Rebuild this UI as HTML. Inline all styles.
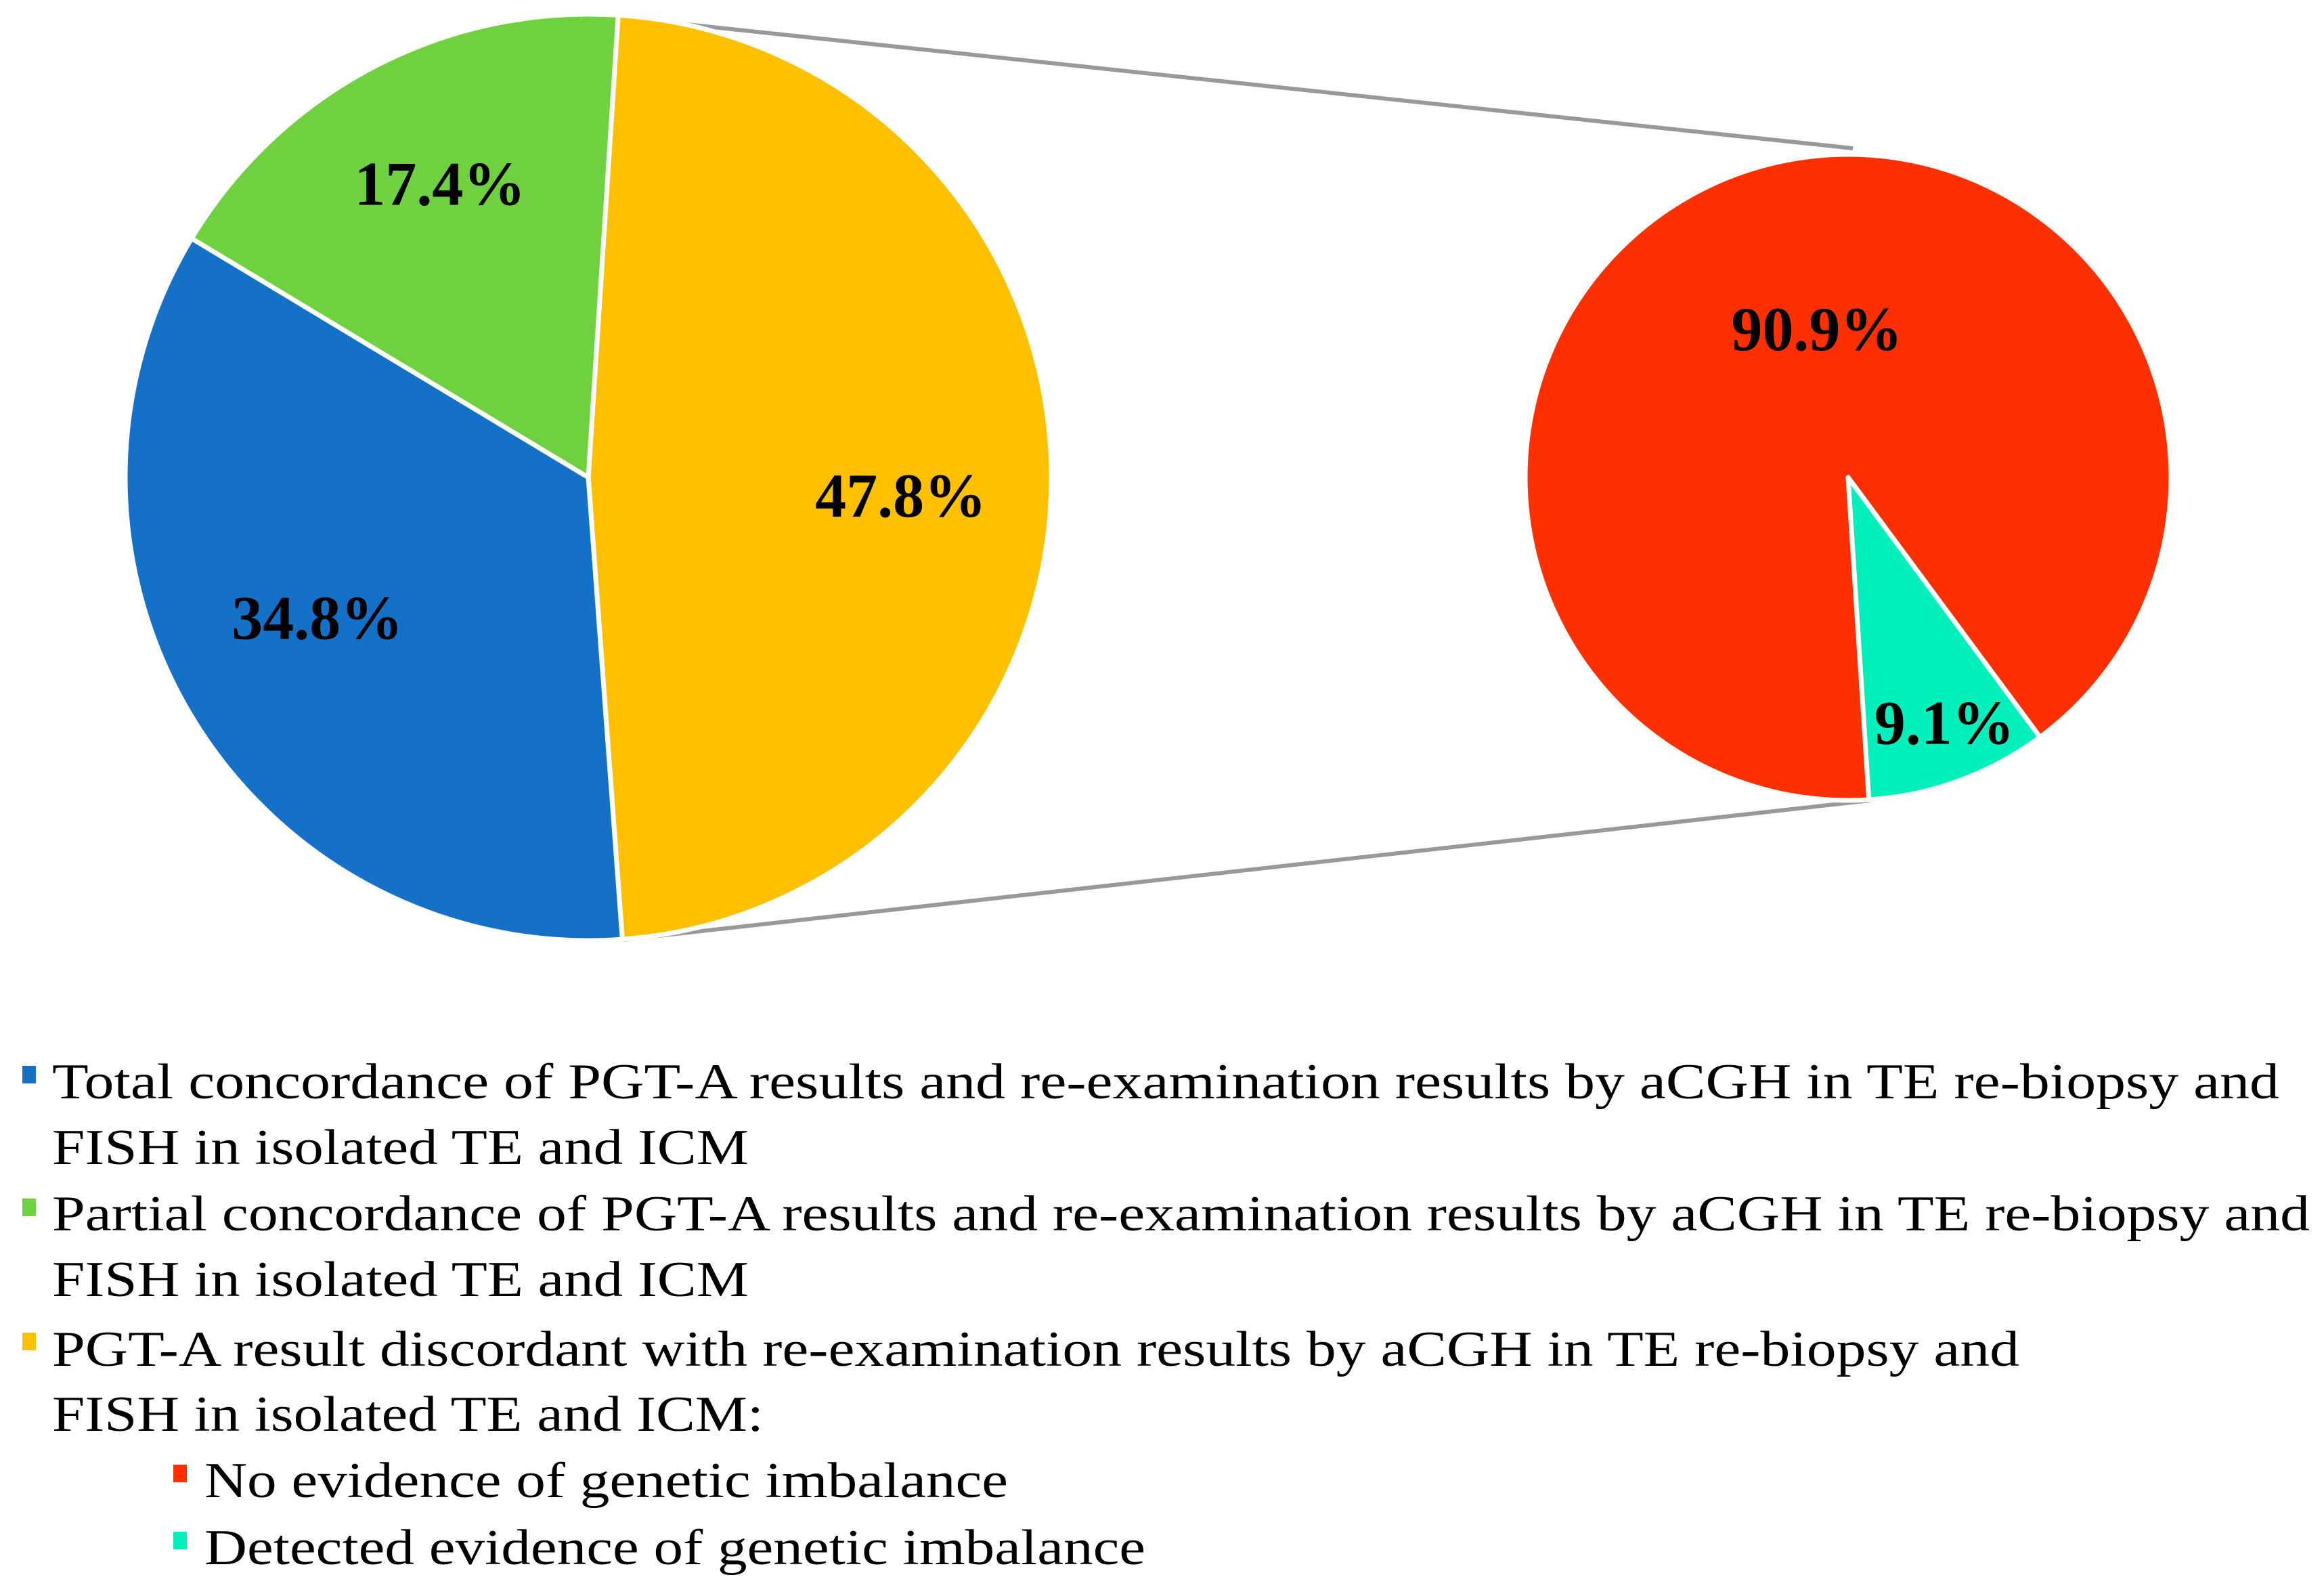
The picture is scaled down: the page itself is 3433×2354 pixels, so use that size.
<!DOCTYPE html>
<html><head><meta charset="utf-8"><style>
html,body{margin:0;padding:0;background:#fff;}
svg{display:block;}
</style></head><body>
<svg id="chart" width="3433" height="2354" viewBox="0 0 3433 2354" xmlns="http://www.w3.org/2000/svg">
  <line x1="920" y1="26" x2="2737" y2="219" stroke="#999" stroke-width="6"/>
  <line x1="920" y1="1388" x2="2763" y2="1182" stroke="#999" stroke-width="6"/>
  <g id="mainPie"></g>
  <g id="subPie"></g>
  <g font-family="'Liberation Serif', serif" font-size="74" fill="#000">
    <rect x="33" y="1574" width="20" height="26" fill="#1570c8"/>
    <text x="77" y="1622" textLength="3290" lengthAdjust="spacingAndGlyphs">Total concordance of PGT-A results and re-examination results by aCGH in TE re-biopsy and</text>
    <text x="77" y="1719" textLength="1029" lengthAdjust="spacingAndGlyphs">FISH in isolated TE and ICM</text>
    <rect x="33" y="1770" width="20" height="26" fill="#6fd140"/>
    <text x="77" y="1817" textLength="3335" lengthAdjust="spacingAndGlyphs">Partial concordance of PGT-A results and re-examination results by aCGH in TE re-biopsy and</text>
    <text x="77" y="1914" textLength="1029" lengthAdjust="spacingAndGlyphs">FISH in isolated TE and ICM</text>
    <rect x="33" y="1968" width="20" height="26" fill="#ffc000"/>
    <text x="77" y="2017" textLength="2906" lengthAdjust="spacingAndGlyphs">PGT-A result discordant with re-examination results by aCGH in TE re-biopsy and</text>
    <text x="77" y="2113" textLength="1051" lengthAdjust="spacingAndGlyphs">FISH in isolated TE and ICM:</text>
    <rect x="256" y="2163" width="20" height="26" fill="#ff3000"/>
    <text x="302" y="2211" textLength="1187" lengthAdjust="spacingAndGlyphs">No evidence of genetic imbalance</text>
    <rect x="256" y="2262" width="20" height="26" fill="#00efbb"/>
    <text x="302" y="2310" textLength="1390" lengthAdjust="spacingAndGlyphs">Detected evidence of genetic imbalance</text>
  </g>
</svg>
<script>
const mainCategories = ['discordant', 'total', 'partial'];
const mainValues = [47.8, 34.8, 17.4];
const mainLabels = ['47.8%', '34.8%', '17.4%'];
const subCategories = ['no-evidence', 'detected'];
const subValues = [90.9, 9.1];
const subLabels = ['90.9%', '9.1%'];

const NS = 'http://www.w3.org/2000/svg';
function pt(cx, cy, r, deg) {
  const a = deg * Math.PI / 180;
  return [cx + r * Math.sin(a), cy - r * Math.cos(a)];
}
function drawPie(g, cx, cy, r, start, values, labels, cats, colors, labelPos, nudge) {
  const total = values.reduce((a, b) => a + b, 0);
  let ang = start;
  values.forEach((v, i) => {
    const sweep = v / total * 360;
    const p1 = pt(cx, cy, r, ang), p2 = pt(cx, cy, r, ang + sweep);
    const large = sweep > 180 ? 1 : 0;
    const path = document.createElementNS(NS, 'path');
    path.setAttribute('d', `M${cx},${cy} L${p1[0]},${p1[1]} A${r},${r} 0 ${large} 1 ${p2[0]},${p2[1]} Z`);
    path.setAttribute('fill', colors[i]);
    path.setAttribute('stroke', '#fff');
    path.setAttribute('stroke-width', '7');
    path.setAttribute('stroke-linejoin', 'round');
    
    
    g.appendChild(path);
    const mid = ang + sweep / 2;
    const lp = pt(cx, cy, r * labelPos[i], mid);
    const t = document.createElementNS(NS, 'text');
    t.setAttribute('x', lp[0] + nudge[i][0]);
    t.setAttribute('y', lp[1] + 32 + nudge[i][1]);
    t.setAttribute('text-anchor', 'middle');
    t.setAttribute('font-family', "'Liberation Serif', serif");
    t.setAttribute('font-weight', 'bold');
    t.setAttribute('font-size', '92');
    t.textContent = labels[i];
    
    
    g.appendChild(t);
    ang += sweep;
  });
}
drawPie(document.getElementById('mainPie'), 869, 705, 684, 3.7, mainValues, mainLabels, mainCategories,
  ['#ffc000', '#1570c8', '#6fd140'], [0.71, 0.68, 0.71], [[-24, 28], [-4, -37], [6, -4]]);
drawPie(document.getElementById('subPie'), 2730, 705, 477, 176.3, subValues, subLabels, subCategories,
  ['#ff3000', '#00efbb'], [0.52, 0.82], [[39, 13], [8, -6]]);
</script>
</body></html>
